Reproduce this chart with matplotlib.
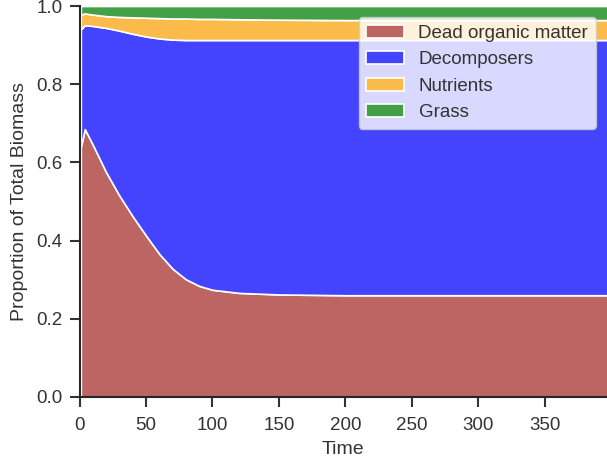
import matplotlib
matplotlib.use("Agg")
import matplotlib.pyplot as plt
import numpy as np

plt.rcParams['font.family'] = ['Liberation Sans', 'DejaVu Sans']

time = [1, 4, 10, 20, 30, 40, 50, 60, 70, 80, 90, 100, 120, 150, 200, 300, 399]
dead_organic = [0.64, 0.685, 0.645, 0.575, 0.515, 0.462, 0.413, 0.366, 0.328, 0.301, 0.284, 0.274, 0.266, 0.262, 0.260, 0.260, 0.260]
blue_top = [0.94, 0.951, 0.949, 0.944, 0.937, 0.929, 0.922, 0.917, 0.914, 0.913, 0.913, 0.913, 0.913, 0.913, 0.913, 0.913, 0.913]
orange_top = [0.978, 0.981, 0.978, 0.974, 0.972, 0.971, 0.970, 0.969, 0.968, 0.968, 0.967, 0.967, 0.966, 0.965, 0.964, 0.964, 0.964]

decomposers = [b - d for b, d in zip(blue_top, dead_organic)]
nutrients = [o - b for o, b in zip(orange_top, blue_top)]
grass = [1.0 - o for o in orange_top]

labels = ["Dead organic matter", "Decomposers", "Nutrients", "Grass"]
colors = ["#bc6562", "#4444ff", "#fbbb4a", "#43a047"]

fig = plt.figure(figsize=(6.07, 4.62), dpi=100)
ax = fig.add_axes([0.131, 0.141, 0.869, 0.846])

ax.stackplot(time, dead_organic, decomposers, nutrients, grass,
             labels=labels, colors=colors, edgecolor="white", linewidth=1.2)

ax.set_xlim(0, 397)
ax.set_ylim(0, 1.0)
ax.set_xticks([0, 50, 100, 150, 200, 250, 300, 350])
ax.set_yticks([0.0, 0.2, 0.4, 0.6, 0.8, 1.0])
ax.set_xlabel("Time", fontsize=14, color="#333333", labelpad=5)
ax.set_ylabel("Proportion of Total Biomass", fontsize=14, color="#333333", labelpad=6)
ax.tick_params(axis="x", pad=7)
ax.tick_params(axis="y", pad=4.5)
ax.tick_params(axis="both", labelsize=13.5, colors="#333333", length=7.5, width=1.5,
               direction="out")
for s in ["top", "right"]:
    ax.spines[s].set_visible(False)
for s in ["left", "bottom"]:
    ax.spines[s].set_linewidth(1.5)
    ax.spines[s].set_color("#262626")

leg = ax.legend(loc="upper right", fontsize=13.5, frameon=True, framealpha=0.8,
                facecolor="white", edgecolor="#cccccc", borderaxespad=0.6,
                labelspacing=0.5, handlelength=2.0, labelcolor="#333333")

fig.savefig("out.png", dpi=100)
